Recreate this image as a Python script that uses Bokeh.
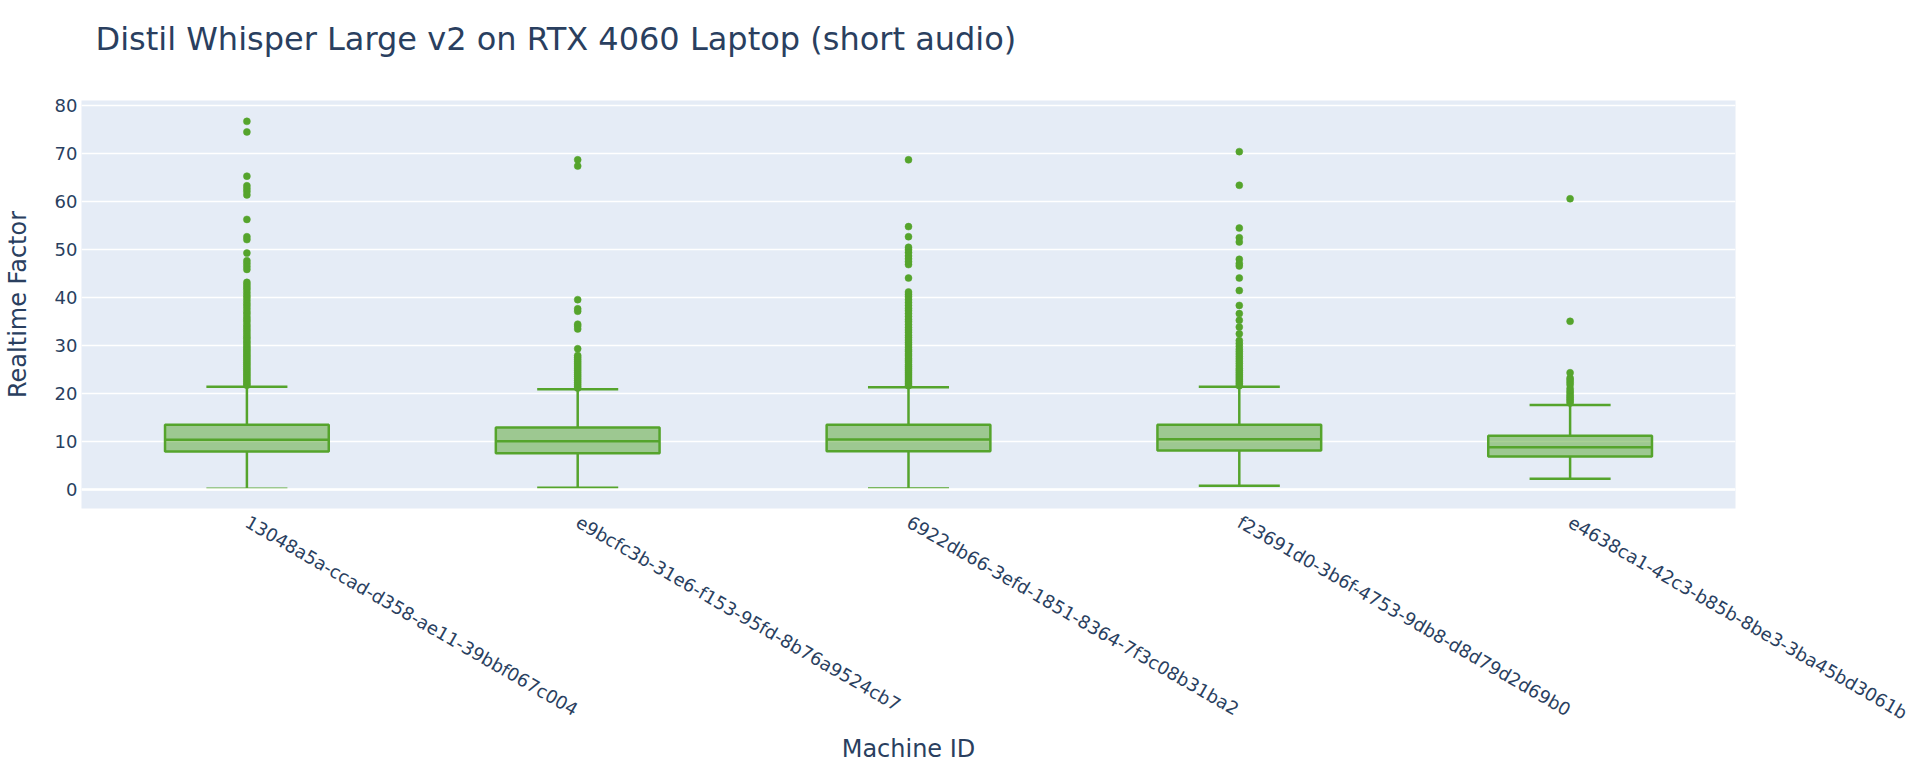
import math
from bokeh.plotting import figure
from bokeh.models import ColumnDataSource, FixedTicker, Range1d, Span
from bokeh.transform import dodge
from bokeh.embed import file_html
from bokeh.resources import INLINE

# ---------------- data ----------------
title_text = "Distil Whisper Large v2 on RTX 4060 Laptop (short audio)"
machine_ids = [
    "13048a5a-ccad-d358-ae11-39bbf067c004",
    "e9bcfc3b-31e6-f153-95fd-8b76a9524cb7",
    "6922db66-3efd-1851-8364-7f3c08b31ba2",
    "f23691d0-3b6f-4753-9db8-d8d79d2d69b0",
    "e4638ca1-42c3-b85b-8be3-3ba45bd3061b",
]
lower_whisker = [0.15, 0.35, 0.2, 0.76, 2.23]
q1 = [7.9, 7.55, 7.97, 8.1, 6.87]
median = [10.34, 10.05, 10.4, 10.47, 8.8]
q3 = [13.46, 12.9, 13.46, 13.5, 11.17]
upper_whisker = [21.4, 20.87, 21.3, 21.4, 17.6]

outliers_1 = [76.6, 74.4, 65.2, 63.2, 62.6, 62.0, 61.3, 56.2, 52.6, 52.0, 49.2,
              47.6, 47.0, 46.4, 45.8, 43.1, 42.6, 42.1, 41.6, 41.0, 40.4, 39.9,
              39.3, 38.7, 38.2, 37.6, 37.0, 36.5, 35.9, 35.4, 34.9, 34.3, 33.8,
              33.3, 32.8, 32.3, 31.8, 31.4, 30.9, 30.5, 30.0, 29.6, 29.2, 28.8,
              28.4, 28.0, 27.6, 27.2, 26.8, 26.4, 26.0, 25.6, 25.2, 24.8, 24.4,
              24.0, 23.6, 23.2, 22.8, 22.4, 22.0, 21.7]
outliers_2 = [68.6, 67.3, 39.5, 37.6, 37.1, 34.4, 34.0, 33.4, 29.3, 27.9, 27.5,
              27.1, 26.7, 26.3, 25.9, 25.5, 25.1, 24.7, 24.3, 23.9, 23.5, 23.1,
              22.7, 22.3, 21.9, 21.5, 21.1]
outliers_3 = [68.6, 54.7, 52.6, 50.4, 49.9, 49.3, 48.6, 48.0, 47.4, 46.8, 44.0,
              41.1, 40.6, 40.1, 39.5, 38.9, 38.3, 37.7, 37.2, 36.6, 36.0, 35.4,
              34.9, 34.3, 33.7, 33.2, 32.7, 32.1, 31.6, 31.1, 30.6, 30.1, 29.6,
              29.1, 28.7, 28.2, 27.8, 27.3, 26.9, 26.5, 26.0, 25.6, 25.2, 24.8,
              24.4, 24.0, 23.6, 23.2, 22.8, 22.4, 22.0, 21.6]
outliers_4 = [70.3, 63.3, 54.4, 52.4, 51.5, 47.9, 47.0, 46.5, 44.0, 41.4, 38.3,
              36.6, 35.2, 33.8, 32.4, 31.0, 30.4, 29.8, 29.2, 28.7, 28.2, 27.7,
              27.2, 26.7, 26.2, 25.7, 25.2, 24.8, 24.4, 24.0, 23.6, 23.2, 22.8,
              22.4, 22.0, 21.6]
outliers_5 = [60.5, 35.0, 24.3, 23.2, 22.8, 22.3, 21.8, 21.0, 20.5, 20.1, 19.6,
              19.2, 18.8, 18.4, 18.0]
y_ticks = [0, 10, 20, 30, 40, 50, 60, 70, 80]

# ---------------- style ----------------
GREEN = "#55A42C"
TEXT = "#2a3f5f"
FONT = "DejaVu Sans"
BOX_W = 0.495
CAP_W = 0.245
LW = 2.5

p = figure(
    x_range=machine_ids,
    y_range=Range1d(-3.95, 80.94),
    width=1920, height=768,
    output_backend="svg", toolbar_location=None,
    title=title_text + "\n",   # empty second line keeps the title high above the frame
    min_border_left=81, min_border_right=185,
    min_border_top=100, min_border_bottom=260,
)
p.x_range.range_padding = 0
p.background_fill_color = "#E5ECF6"
p.border_fill_color = "white"
p.outline_line_color = None

p.title.text_font = FONT
p.title.text_font_size = "32px"
p.title.text_font_style = "normal"
p.title.text_color = TEXT
p.title.align = "left"
p.title.offset = 14
p.title.standoff = 0
p.title.text_line_height = 1.12

# grid
p.xgrid.grid_line_color = None
p.ygrid.grid_line_color = "white"
p.ygrid.grid_line_width = 1.3
p.yaxis.ticker = FixedTicker(ticks=y_ticks)
p.add_layout(Span(location=0, dimension="width", line_color="white", line_width=2.6))

# axes
for ax in (p.xaxis[0], p.yaxis[0]):
    ax.axis_line_color = None
    ax.major_tick_line_color = None
    ax.minor_tick_line_color = None
    ax.major_tick_out = 0
    ax.major_tick_in = 0
    ax.major_label_text_font = FONT
    ax.major_label_text_color = TEXT
    ax.axis_label_text_font = FONT
    ax.axis_label_text_color = TEXT
    ax.axis_label_text_font_style = "normal"
    ax.axis_label_text_font_size = "24px"

p.yaxis.axis_label = "Realtime Factor"
p.yaxis.major_label_text_font_size = "18px"
p.yaxis.major_label_standoff = 4
p.yaxis.axis_label_standoff = 20

p.xaxis.axis_label = "Machine ID"
p.xaxis.major_label_text_font_size = "18px"
p.xaxis.major_label_orientation = -math.pi / 6
p.xaxis.major_label_standoff = 12
p.xaxis.axis_label_standoff = 0

# ---------------- boxes ----------------
src = ColumnDataSource(dict(x=machine_ids, lo=lower_whisker, q1=q1, med=median,
                            q3=q3, hi=upper_whisker))

# whisker stems
p.segment(x0="x", x1="x", y0="q3", y1="hi", source=src, line_color=GREEN, line_width=LW)
p.segment(x0="x", x1="x", y0="lo", y1="q1", source=src, line_color=GREEN, line_width=LW)
# caps
p.segment(x0=dodge("x", -CAP_W / 2, range=p.x_range), x1=dodge("x", CAP_W / 2, range=p.x_range),
          y0="hi", y1="hi", source=src, line_color=GREEN, line_width=LW)
p.segment(x0=dodge("x", -CAP_W / 2, range=p.x_range), x1=dodge("x", CAP_W / 2, range=p.x_range),
          y0="lo", y1="lo", source=src, line_color=GREEN, line_width=LW)
# box
p.vbar(x="x", bottom="q1", top="q3", width=BOX_W, source=src,
       fill_color=GREEN, fill_alpha=0.5, line_color=GREEN, line_width=LW)
# median
p.segment(x0=dodge("x", -BOX_W / 2, range=p.x_range), x1=dodge("x", BOX_W / 2, range=p.x_range),
          y0="med", y1="med", source=src, line_color=GREEN, line_width=LW)

# outliers
all_out = [outliers_1, outliers_2, outliers_3, outliers_4, outliers_5]
ox, oy = [], []
for mid, vals in zip(machine_ids, all_out):
    ox.extend([mid] * len(vals))
    oy.extend(vals)
p.scatter(x=ox, y=oy, size=7, fill_color=GREEN, line_color=GREEN, line_width=0.5)

open("out.html", "w").write(file_html(p, INLINE))
